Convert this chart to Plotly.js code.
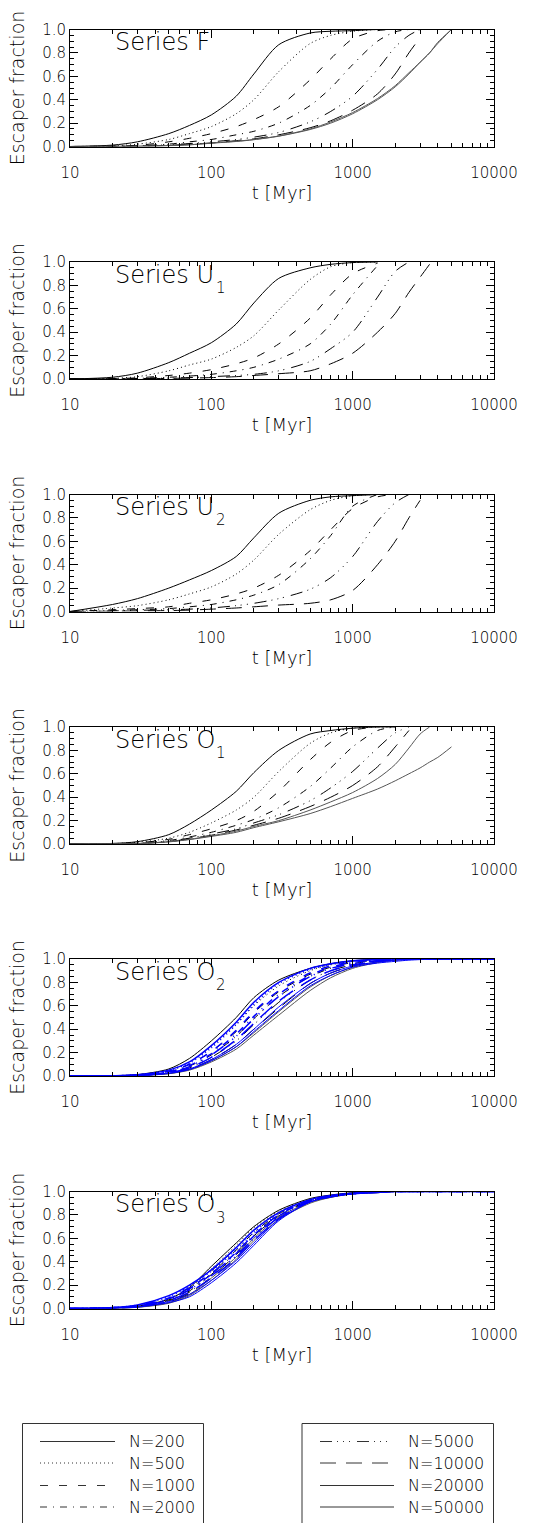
<!DOCTYPE html>
<html><head><meta charset="utf-8">
<script src="https://cdn.plot.ly/plotly-3.0.1.min.js"></script>
<style>html,body{margin:0;padding:0;background:#fff}#chart{width:546px;height:1523px}</style>
</head><body><div id="chart"></div><script>
// time grid (Myr)
const T = [10,20,30,50,70,100,150,200,300,500,700,1000,1500,2000,2500,3000,3500,4000,5000,10000];
const N_LABELS = ['N=200','N=500','N=1000','N=2000','N=5000','N=10000','N=20000','N=50000'];
const PANEL_TITLES = ['Series F','Series U','Series U','Series O','Series O','Series O'];
const PANEL_SUBS = ['','1','2','1','2','3'];
const X_TICKS = [10,100,1000,10000];
const X_TICKTEXT = ['10','100','1000','10000'];
const Y_TICKS = [0,0.2,0.4,0.6,0.8,1.0];
const Y_TICKTEXT = ['0.0','0.2','0.4','0.6','0.8','1.0'];

// Series F
const F_200   = [0,.012,.04,.11,.18,.27,.43,.62,.87,.97,.985,.99,1,1];
const F_500   = [0,.005,.02,.06,.11,.17,.28,.40,.64,.88,.95,.985,1,1];
const F_1000  = [0,.003,.01,.04,.07,.11,.17,.23,.34,.57,.75,.92,.99,1];
const F_2000  = [0,.002,.006,.02,.04,.06,.10,.13,.20,.35,.50,.70,.90,.98,1];
const F_5000  = [0,.001,.004,.015,.025,.04,.06,.08,.12,.21,.30,.43,.66,.85,.95,1];
const F_10000 = [0,.001,.003,.01,.02,.03,.05,.065,.10,.16,.22,.31,.45,.62,.80,.93];
const F_20000 = [0,.001,.002,.008,.015,.03,.045,.06,.09,.15,.21,.29,.41,.52,.63,.72,.80,.88,1];
const F_50000 = [0,.001,.002,.007,.014,.028,.043,.058,.088,.145,.20,.28,.40,.51,.62,.72,.80,.89,1];
// Series U1
const U_200   = [0,.015,.05,.14,.22,.31,.47,.65,.86,.95,.98,.995,1];
const U_500   = [0,.006,.02,.07,.12,.17,.27,.37,.59,.85,.96,.995,1];
const U_1000  = [0,.003,.01,.03,.05,.08,.13,.18,.30,.52,.72,.90,.99];
const U_2000  = [0,.002,.005,.015,.025,.04,.07,.10,.17,.30,.47,.72,.97];
const U_5000  = [0,.001,.003,.008,.012,.02,.03,.04,.07,.15,.26,.40,.70,.92,1];
const U_10000 = [0,.001,.002,.005,.008,.012,.02,.03,.045,.07,.13,.22,.40,.56,.74,.87,.98];
// Series U2
const V_200   = [0,.06,.11,.20,.27,.35,.47,.63,.84,.95,.98,.99,1];
const V_500   = [0,.03,.05,.10,.15,.21,.32,.44,.66,.87,.95,.99,1];
const V_1000  = [0,.015,.025,.04,.07,.10,.15,.20,.31,.52,.70,.88,.98,1];
const V_2000  = [0,.01,.015,.025,.04,.06,.10,.14,.23,.45,.65,.90,1];
const V_5000  = [0,.005,.01,.015,.02,.03,.05,.07,.11,.19,.29,.47,.77,.93,1];
const V_10000 = [0,.003,.005,.008,.012,.02,.03,.04,.055,.07,.10,.18,.40,.60,.80,.95];
// Series O1
const P_200   = [0,.005,.02,.08,.17,.29,.45,.61,.80,.94,.97,.99,1,1];
const P_500   = [0,.004,.015,.05,.10,.18,.29,.40,.62,.86,.95,.99,1,1];
const P_1000  = [0,.003,.01,.04,.08,.13,.20,.28,.45,.72,.87,.97,1];
const P_2000  = [0,.002,.006,.03,.06,.10,.16,.21,.31,.49,.65,.83,.97,1];
const P_5000  = [0,.002,.005,.025,.05,.085,.13,.18,.25,.37,.48,.62,.82,.95,1];
const P_10000 = [0,.001,.004,.02,.045,.075,.12,.16,.22,.32,.40,.50,.66,.83,.97];
const P_20000 = [0,.001,.004,.02,.04,.07,.11,.15,.20,.29,.36,.44,.56,.68,.82,.94,1];
const P_50000 = [0,.001,.004,.018,.038,.065,.10,.14,.19,.26,.32,.39,.47,.54,.60,.65,.70,.74,.83];
// Series O2 (black / blue)
const B_200   = [0,.003,.012,.06,.15,.30,.50,.67,.82,.92,.96,.985,1];
const B_500   = [0,.002,.01,.05,.12,.25,.44,.60,.77,.90,.95,.98,1];
const B_1000  = [0,.002,.008,.04,.10,.21,.38,.54,.72,.87,.93,.97,.99,1];
const B_2000  = [0,.002,.007,.035,.085,.18,.34,.49,.68,.85,.92,.96,.99,1];
const B_5000  = [0,.001,.006,.03,.07,.16,.30,.44,.63,.82,.90,.95,.985,1];
const B_10000 = [0,.001,.005,.025,.06,.14,.27,.40,.58,.79,.88,.94,.98,1];
const B_20000 = [0,.001,.004,.02,.055,.13,.25,.37,.55,.76,.86,.93,.975,.99,1];
const B_50000 = [0,.001,.004,.02,.05,.12,.23,.35,.52,.73,.84,.92,.97,.99,1];
const L_200   = [0,.002,.01,.05,.12,.26,.46,.63,.80,.92,.96,.985,.995,1,1,1,1,1,1,1];
const L_500   = [0,.002,.009,.045,.11,.24,.44,.61,.79,.91,.955,.98,.995,1,1,1,1,1,1,1];
const L_1000  = [0,.002,.008,.04,.10,.21,.39,.55,.73,.88,.94,.975,.99,1,1,1,1,1,1,1];
const L_2000  = [0,.002,.007,.035,.09,.19,.36,.51,.70,.86,.93,.97,.99,1,1,1,1,1,1,1];
const L_5000  = [0,.001,.006,.03,.08,.18,.34,.49,.68,.85,.92,.96,.985,.995,1,1,1,1,1,1];
const L_10000 = [0,.001,.005,.028,.07,.16,.31,.45,.64,.82,.90,.95,.98,.99,1,1,1,1,1,1];
const L_20000 = [0,.001,.005,.025,.06,.14,.27,.40,.59,.79,.88,.94,.975,.99,1,1,1,1,1,1];
const L_50000 = [0,.001,.004,.022,.055,.13,.25,.38,.56,.77,.86,.93,.965,.98,.99,.995,1,1,1,1];
// Series O3 (black / blue)
const K_200   = [0,.004,.02,.08,.18,.36,.56,.70,.84,.94,.97,.99,1,1];
const K_500   = [0,.004,.018,.075,.17,.34,.54,.69,.83,.93,.965,.985,1,1];
const K_1000  = [0,.003,.016,.07,.16,.32,.52,.67,.82,.93,.965,.985,1,1];
const K_2000  = [0,.003,.015,.065,.15,.30,.50,.65,.81,.92,.96,.985,.995,1];
const K_5000  = [0,.003,.014,.06,.14,.29,.48,.63,.80,.92,.96,.985,.995,1];
const K_10000 = [0,.002,.012,.055,.13,.27,.46,.62,.79,.915,.955,.98,.995,1];
const K_20000 = [0,.002,.011,.05,.12,.26,.44,.60,.78,.91,.95,.98,.99,1];
const K_50000 = [0,.002,.01,.045,.11,.24,.42,.58,.76,.90,.95,.98,.99,1];
const M_200   = [0,.008,.03,.11,.20,.33,.52,.67,.82,.93,.965,.985,1,1,1,1,1,1,1,1];
const M_500   = [0,.008,.028,.10,.19,.32,.50,.65,.81,.93,.965,.985,1,1,1,1,1,1,1,1];
const M_1000  = [0,.007,.025,.09,.18,.30,.48,.63,.80,.925,.96,.985,.995,1,1,1,1,1,1,1];
const M_2000  = [0,.006,.023,.085,.17,.29,.47,.62,.79,.92,.96,.985,.995,1,1,1,1,1,1,1];
const M_5000  = [0,.006,.02,.08,.16,.28,.45,.60,.78,.92,.96,.98,.995,1,1,1,1,1,1,1];
const M_10000 = [0,.005,.018,.07,.14,.26,.43,.58,.77,.915,.955,.98,.995,1,1,1,1,1,1,1];
const M_20000 = [0,.004,.015,.06,.12,.24,.41,.56,.76,.91,.955,.98,.99,1,1,1,1,1,1,1];
const M_50000 = [0,.003,.012,.05,.10,.22,.39,.54,.75,.91,.955,.98,.99,1,1,1,1,1,1,1];

const PANELS = [
  {black:[F_200,F_500,F_1000,F_2000,F_5000,F_10000,F_20000,F_50000], blue:[]},
  {black:[U_200,U_500,U_1000,U_2000,U_5000,U_10000], blue:[]},
  {black:[V_200,V_500,V_1000,V_2000,V_5000,V_10000], blue:[]},
  {black:[P_200,P_500,P_1000,P_2000,P_5000,P_10000,P_20000,P_50000], blue:[]},
  {black:[B_200,B_500,B_1000,B_2000,B_5000,B_10000,B_20000,B_50000], blue:[L_200,L_500,L_1000,L_2000,L_5000,L_10000,L_20000,L_50000]},
  {black:[K_200,K_500,K_1000,K_2000,K_5000,K_10000,K_20000,K_50000], blue:[M_200,M_500,M_1000,M_2000,M_5000,M_10000,M_20000,M_50000]}
];

// styles (IDL-like line styles)
const DASHES = ['solid','1px,3px','8px,11px','7px,6px,1px,6px','12px,5px,1px,5px,1px,5px,1px,7px','16px,10px','solid','solid'];
const BLACKS = ['#000','#000','#000','#000','#000','#000','#555','#555'];

const W = 546, H = 1523;
const FONT = 'DejaVu Sans, sans-serif';
const TXT = '#000';
const X0 = 70, X1 = 494;
const TOPS = [29.5, 262, 494.5, 727, 959, 1191.5];
const PH = 117;
const py = v => 1 - v / H;
const px = v => v / W;
const fnt = size => ({family: FONT, size: size, color: TXT, weight: 300});

const xMinor = [];
[10,100,1000].forEach(d => { for (let k = 2; k <= 9; k++) xMinor.push(d * k); });
const yMinor = [];
for (let k = 0; k <= 20; k++) yMinor.push(k * 0.05);

const data = [];
const layout = {
  width: W, height: H, margin: {l:0, r:0, t:0, b:0},
  paper_bgcolor: '#fff', plot_bgcolor: 'rgba(0,0,0,0)', showlegend: false,
  font: fnt(14),
  annotations: []
};

PANELS.forEach((p, i) => {
  const s = i === 0 ? '' : String(i + 1);
  const xa = 'x' + s, ya = 'y' + s;
  p.black.forEach((y, j) => {
    data.push({x: T.slice(0, y.length), y: y, xaxis: xa, yaxis: ya, mode: 'lines', hoverinfo: 'skip',
      line: {color: BLACKS[j], width: 1, dash: DASHES[j], shape: 'spline', smoothing: 0.8}});
  });
  p.blue.forEach((y, j) => {
    data.push({x: T.slice(0, y.length), y: y, xaxis: xa, yaxis: ya, mode: 'lines', hoverinfo: 'skip',
      line: {color: '#0000ff', width: j >= 6 ? 1 : 1.5, dash: DASHES[j], shape: 'spline', smoothing: 0.8}});
  });
  const top = TOPS[i], bot = TOPS[i] + PH;
  layout['xaxis' + s] = {
    type: 'log', range: [1, 4], domain: [px(X0), px(X1)], anchor: ya,
    tickmode: 'array', tickvals: X_TICKS, ticktext: X_TICKTEXT,
    ticks: 'inside', ticklen: 8, tickwidth: 1, tickcolor: '#000',
    minor: {tickmode: 'array', tickvals: xMinor, ticks: 'inside', ticklen: 4, tickcolor: '#000', showgrid: false},
    showline: true, linecolor: '#000', linewidth: 1, mirror: 'allticks',
    showgrid: false, zeroline: false, automargin: false,
    tickfont: fnt(15), ticklabelstandoff: 12,
    title: {text: 't [Myr]', font: fnt(18), standoff: 5}
  };
  layout['yaxis' + s] = {
    range: [0, 1], domain: [py(bot), py(top)], anchor: xa,
    tickmode: 'array', tickvals: Y_TICKS, ticktext: Y_TICKTEXT,
    ticks: 'inside', ticklen: 8, tickwidth: 1, tickcolor: '#000',
    minor: {tickmode: 'array', tickvals: yMinor, ticks: 'inside', ticklen: 4, tickcolor: '#000', showgrid: false},
    showline: true, linecolor: '#000', linewidth: 1, mirror: 'allticks',
    showgrid: false, zeroline: false, automargin: false,
    tickfont: fnt(15),
    title: {text: 'Escaper fraction', font: fnt(19), standoff: 12}
  };
  layout.annotations.push({text: PANEL_TITLES[i], xref: 'paper', yref: 'paper', x: px(113), y: py(top + 12.5),
    xanchor: 'left', yanchor: 'middle', showarrow: false, font: fnt(24)});
  if (PANEL_SUBS[i]) {
    layout.annotations.push({text: PANEL_SUBS[i], xref: 'paper', yref: 'paper', x: px(214), y: py(top + 26),
      xanchor: 'left', yanchor: 'middle', showarrow: false, font: fnt(15)});
  }
});

// legend boxes drawn on a hidden pixel-unit axis pair under the panels
const LEG_TOP = 1423.5, LEG_ROWS = [1441.5, 1463, 1485.5, 1507];
const BOXES = [{x0: 22.5, x1: 203.5, lx0: 40, lx1: 115, tx: 127, items: [0,1,2,3]},
               {x0: 302, x1: 493.5, lx0: 320, lx1: 394, tx: 406, items: [4,5,6,7]}];
const LEG_Y0 = 1400;
layout.xaxis7 = {domain: [0, 1], range: [0, W], visible: false, fixedrange: true, anchor: 'y7'};
layout.yaxis7 = {domain: [0, (H - LEG_Y0) / H], range: [H, LEG_Y0], visible: false, fixedrange: true, anchor: 'x7'};
BOXES.forEach(b => {
  data.push({x: [b.x0, b.x0, b.x1, b.x1], y: [H + 10, LEG_TOP, LEG_TOP, H + 10], xaxis: 'x7', yaxis: 'y7',
    mode: 'lines', hoverinfo: 'skip', line: {color: '#333', width: 1}});
  b.items.forEach((k, r) => {
    data.push({x: [b.lx0, b.lx1], y: [LEG_ROWS[r], LEG_ROWS[r]], xaxis: 'x7', yaxis: 'y7',
      mode: 'lines', hoverinfo: 'skip', line: {color: '#333', width: 1, dash: DASHES[k]}});
    layout.annotations.push({text: N_LABELS[k], xref: 'paper', yref: 'paper', x: px(b.tx), y: py(LEG_ROWS[r]),
      xanchor: 'left', yanchor: 'middle', showarrow: false, font: fnt(16)});
  });
});

Plotly.newPlot('chart', data, layout, {staticPlot: true, displayModeBar: false});
</script></body></html>
